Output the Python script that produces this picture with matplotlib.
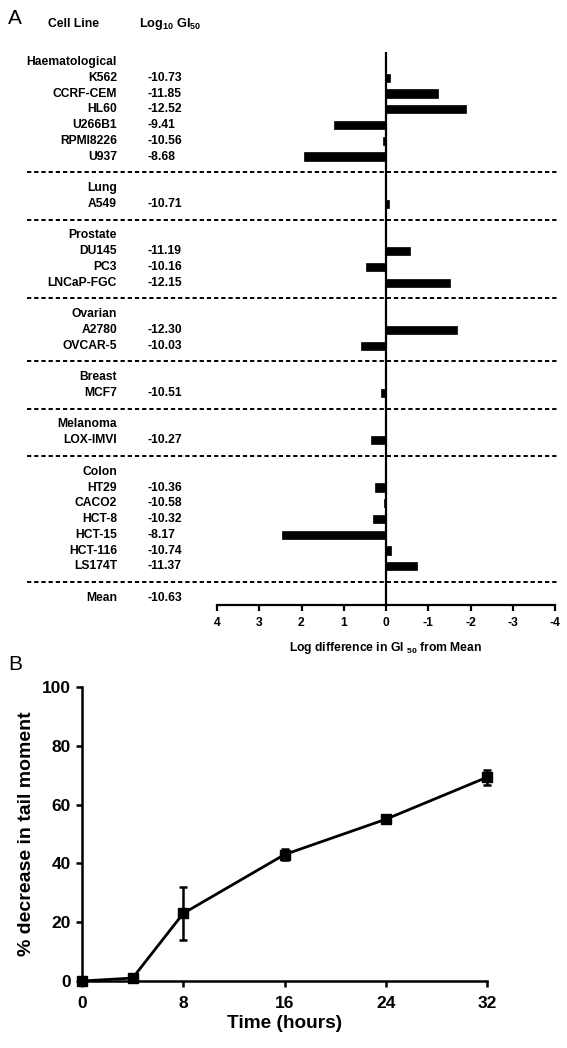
import matplotlib
matplotlib.use("Agg")
import matplotlib.pyplot as plt
import matplotlib.transforms as mtransforms
import numpy as np

plt.rcParams['font.family'] = ['Liberation Sans', 'DejaVu Sans']
plt.rcParams['font.weight'] = 'bold'
plt.rcParams['mathtext.fontset'] = 'custom'
plt.rcParams['mathtext.rm'] = 'Liberation Sans:bold'
plt.rcParams['mathtext.it'] = 'Liberation Sans:bold'
plt.rcParams['mathtext.bf'] = 'Liberation Sans:bold'
plt.rcParams['mathtext.default'] = 'rm'

# ---------------- Data: panel A ----------------
groups = ["Haematological", "Lung", "Prostate", "Ovarian", "Breast", "Melanoma", "Colon"]
group_cells = [
    ["K562", "CCRF-CEM", "HL60", "U266B1", "RPMI8226", "U937"],
    ["A549"],
    ["DU145", "PC3", "LNCaP-FGC"],
    ["A2780", "OVCAR-5"],
    ["MCF7"],
    ["LOX-IMVI"],
    ["HT29", "CACO2", "HCT-8", "HCT-15", "HCT-116", "LS174T"],
]
group_gi50 = [
    [-10.73, -11.85, -12.52, -9.41, -10.56, -8.68],
    [-10.71],
    [-11.19, -10.16, -12.15],
    [-12.30, -10.03],
    [-10.51],
    [-10.27],
    [-10.36, -10.58, -10.32, -8.17, -10.74, -11.37],
]
mean_gi50 = -10.63
xticks_A = [4, 3, 2, 1, 0, -1, -2, -3, -4]

# ---------------- Data: panel B ----------------
time_h = [0, 4, 8, 16, 24, 32]
pct_decrease = [0, 1, 23, 43, 55, 69.3]
pct_err = [0, 0.5, 9, 2, 0.8, 2.5]

W, H = 567, 1048
fig = plt.figure(figsize=(W / 100, H / 100), dpi=100)

def fx(px):
    return px / W

def fy(py):
    return 1 - py / H

# Panel A axes
top_px, bot_px = 52, 605
left_px, right_px = 217, 555
axA = fig.add_axes([fx(left_px), fy(bot_px), fx(right_px - left_px), (bot_px - top_px) / H])
slot_px = 15.76
row0_px = 62
ymin = (bot_px - row0_px) / slot_px
ymax = (top_px - row0_px) / slot_px
axA.set_ylim(ymin, ymax)
axA.set_xlim(4, -4)

blend = mtransforms.blended_transform_factory(fig.transFigure, axA.transData)
name_x = fx(117)
val_x = fx(148)
fs = 8.7

row = 0
for gi, g in enumerate(groups):
    axA.text(name_x, row, g, transform=blend, ha='right', va='center', fontsize=fs, fontweight='bold')
    row += 1
    for c, v in zip(group_cells[gi], group_gi50[gi]):
        axA.text(name_x, row, c, transform=blend, ha='right', va='center', fontsize=fs, fontweight='bold')
        axA.text(val_x, row, f"{v:.2f}", transform=blend, ha='left', va='center', fontsize=fs, fontweight='bold')
        axA.barh(row, v - mean_gi50, height=0.52, color='black', edgecolor='black', linewidth=0.5)
        row += 1
    # separator
    axA.plot([fx(27), fx(558)], [row, row], transform=blend, color='black', lw=1.4,
             dashes=(2.2, 1.5), clip_on=False)
    row += 1

axA.text(name_x, row, "Mean", transform=blend, ha='right', va='center', fontsize=fs, fontweight='bold')
axA.text(val_x, row, f"{mean_gi50:.2f}", transform=blend, ha='left', va='center', fontsize=fs, fontweight='bold')

axA.axvline(0, color='black', lw=1.6)
for s in ['top', 'right', 'left']:
    axA.spines[s].set_visible(False)
axA.spines['bottom'].set_linewidth(1.6)
axA.set_yticks([])
axA.set_xticks(xticks_A)
axA.set_xticklabels([str(t) for t in xticks_A], fontsize=fs, fontweight='bold')
axA.tick_params(axis='x', direction='out', length=4.5, width=1.6, pad=4)
axA.set_xlabel('Log difference in GI $_{50}$ from Mean', fontsize=fs, fontweight='bold', labelpad=8)

# Header
fig.text(fx(48), fy(24), "Cell Line", ha='left', va='center', fontsize=fs, fontweight='bold')
fig.text(fx(139), fy(24), r"Log$_{10}$ GI$_{50}$", ha='left', va='center', fontsize=fs + 0.5, fontweight='bold')
fig.text(fx(8), fy(18), "A", ha='left', va='center', fontsize=15, fontweight='normal')
fig.text(fx(8), fy(664), "B", ha='left', va='center', fontsize=15, fontweight='normal')

# Panel B axes
axB = fig.add_axes([fx(82), fy(981), fx(487 - 82), (981 - 687) / H])
axB.errorbar(time_h, pct_decrease, yerr=pct_err, color='black', lw=2, marker='s', markersize=6.5,
             capsize=3, elinewidth=1.8, capthick=1.8, clip_on=False, zorder=3)
axB.set_xlim(0, 32)
axB.set_ylim(0, 100)
axB.set_xticks([0, 8, 16, 24, 32])
axB.set_yticks([0, 20, 40, 60, 80, 100])
for s in ['top', 'right']:
    axB.spines[s].set_visible(False)
for s in ['left', 'bottom']:
    axB.spines[s].set_linewidth(1.8)
axB.tick_params(direction='out', length=4, width=1.8, labelsize=12.5, pad=4)
axB.tick_params(axis='x', pad=7)
for lab in axB.get_xticklabels() + axB.get_yticklabels():
    lab.set_fontweight('bold')
axB.set_xlabel('Time (hours)', fontsize=13.7, fontweight='bold', labelpad=3)
axB.set_ylabel('% decrease in tail moment', fontsize=14, fontweight='bold', labelpad=5)

fig.savefig('out.png', dpi=100)
